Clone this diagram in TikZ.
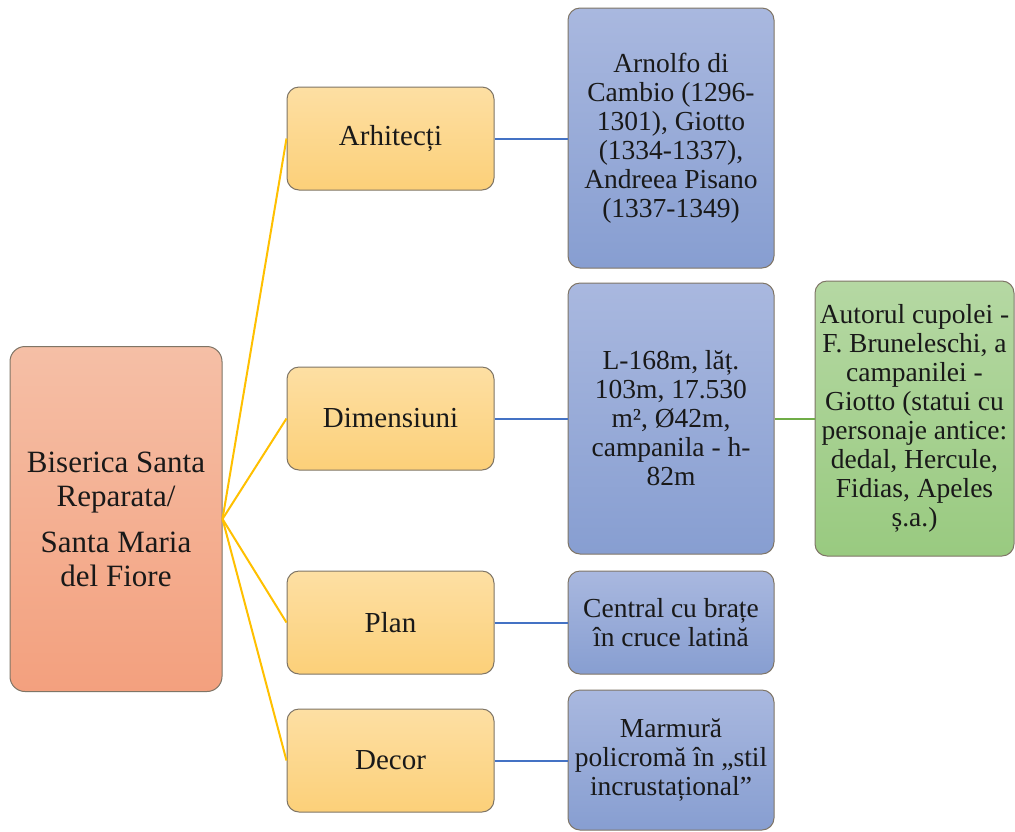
\documentclass[tikz,border=0pt]{standalone}
\usepackage{fontspec}
\setmainfont{Liberation Serif}
\usetikzlibrary{shadings}
\definecolor{bordc}{HTML}{7F7566}
\definecolor{rootT}{HTML}{F5BFA6}
\definecolor{rootB}{HTML}{F3A07E}
\definecolor{yelT}{HTML}{FDDFA3}
\definecolor{yelB}{HTML}{FCD079}
\definecolor{bluT}{HTML}{A9B8DF}
\definecolor{bluB}{HTML}{879ED1}
\definecolor{grnT}{HTML}{B5D8A3}
\definecolor{grnB}{HTML}{99CA80}
\definecolor{lnY}{HTML}{FFC000}
\definecolor{lnB}{HTML}{4472C4}
\definecolor{lnG}{HTML}{70AD47}
\tikzset{
  box/.style={draw=bordc, line width=1pt, rounded corners=12pt, inner sep=0pt, align=center, text=black!90},
  rootbox/.style={box, top color=rootT, bottom color=rootB, rounded corners=15pt,
     font=\fontsize{31}{34}\selectfont},
  yelbox/.style={box, top color=yelT, bottom color=yelB, minimum width=207pt, minimum height=103pt,
     font=\fontsize{29}{31}\selectfont},
  blubox/.style={box, top color=bluT, bottom color=bluB, minimum width=206pt,
     font=\fontsize{27.5}{29}\selectfont},
  grnbox/.style={box, top color=grnT, bottom color=grnB,
     font=\fontsize{27.5}{29}\selectfont},
  ylink/.style={draw=lnY, line width=2pt},
  blink/.style={draw=lnB, line width=2pt},
  glink/.style={draw=lnG, line width=2pt}
}
\begin{document}
\begin{tikzpicture}[x=1pt,y=-1pt]
\useasboundingbox (0,0) rectangle (1015,831);
\clip (0,0) rectangle (1015,831);
\fill[white] (0,0) rectangle (1015,831);

\node[rootbox, minimum width=212pt, minimum height=345pt] (root) at (116,519)
  {Biserica Santa\\Reparata/\\[12pt]Santa Maria\\del Fiore};

\node[yelbox] (arh) at (390.5,138.5) {Arhitecți};
\node[yelbox] (dim) at (390.5,418.5) {Dimensiuni};
\node[yelbox] (plan) at (390.5,622.5) {Plan};
\node[yelbox] (dec) at (390.5,760.5) {Decor};

\node[blubox, minimum height=260pt] (arnolfo) at (671,138)
  {Arnolfo di\\Cambio (1296-\\1301), Giotto\\(1334-1337),\\Andreea Pisano\\(1337-1349)};
\node[blubox, minimum height=271pt] (dimv) at (671,418.5)
  {L-168m, lăț.\\103m, 17.530\\m², Ø42m,\\campanila - h-\\82m};
\node[blubox, minimum height=103pt] (planv) at (671,622.5)
  {Central cu brațe\\în cruce latină};
\node[blubox, minimum height=140pt] (decv) at (671,760)
  {Marmură\\policromă în „stil\\incrustațional”};

\node[grnbox, minimum width=199pt, minimum height=275pt] (cup) at (914.5,418.5)
  {Autorul cupolei -\\F. Bruneleschi, a\\campanilei -\\Giotto (statui cu\\personaje antice:\\dedal, Hercule,\\Fidias, Apeles\\ș.a.)};

\draw[ylink] (root.east) -- (arh.west);
\draw[ylink] (root.east) -- (dim.west);
\draw[ylink] (root.east) -- (plan.west);
\draw[ylink] (root.east) -- (dec.west);

\draw[blink] (arh.east) -- (arnolfo.west |- arh.east);
\draw[blink] (dim.east) -- (dimv.west |- dim.east);
\draw[blink] (plan.east) -- (planv.west |- plan.east);
\draw[blink] (dec.east) -- (decv.west |- dec.east);

\draw[glink] (dimv.east) -- (cup.west);
\end{tikzpicture}
\end{document}
